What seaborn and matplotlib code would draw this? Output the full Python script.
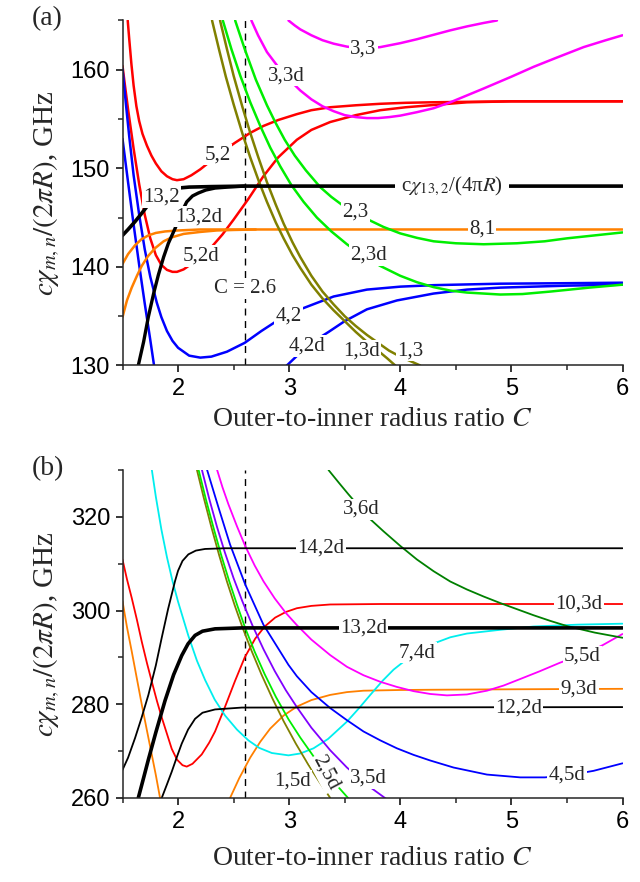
import matplotlib
matplotlib.use("Agg")
import matplotlib.pyplot as plt
import seaborn as sns
import pandas as pd

# ------------------------- panel (a) data (C, GHz) -------------------------
a52_C = [1.547,1.56,1.58,1.60,1.625,1.65,1.68,1.72,1.76,1.80,1.85,1.90,1.95,1.99,2.05,2.12,2.2,2.3,2.4,2.513,2.65,2.768,2.9,3.069,3.2,3.369,3.6,3.82,4.05,4.27,4.6,5.0,5.5,6.0]
a52_V = [165.0,163.2,160.6,158.4,156.3,154.8,153.5,152.3,151.3,150.5,149.7,149.2,148.9,148.8,148.9,149.3,149.9,150.8,151.7,152.6,153.6,154.3,154.9,155.5,155.9,156.2,156.4,156.55,156.65,156.7,156.75,156.8,156.8,156.8]
a52d_C = [1.5,1.52,1.55,1.6,1.65,1.7,1.75,1.8,1.85,1.9,1.95,1.99,2.05,2.12,2.2,2.3,2.4,2.5,2.633,2.768,2.9,3.069,3.2,3.369,3.6,3.82,4.05,4.27,4.6,5.0,6.0]
a52d_V = [160.4,158.6,156.0,152.0,148.4,145.3,142.9,141.2,140.2,139.7,139.5,139.5,139.75,140.3,141.0,142.0,143.3,144.8,146.9,149.2,151.1,152.9,153.9,154.7,155.4,155.9,156.2,156.4,156.7,156.8,156.8]
a42_C = [1.5,1.53,1.56,1.6,1.65,1.7,1.75,1.808,1.85,1.9,1.95,2.0,2.1,2.2,2.3,2.44,2.6,2.75,2.9,3.1,3.4,3.7,4.0,4.3,4.9,5.5,6.0]
a42_V = [160.1,156.6,153.3,149.3,145.3,141.8,139.0,136.4,134.9,133.5,132.5,131.8,131.0,130.8,130.9,131.4,132.3,133.5,134.6,135.7,137.0,137.7,138.0,138.15,138.3,138.35,138.4]
a42d_left_C = [1.5,1.55,1.6,1.65,1.7,1.75,1.784]
a42d_left_V = [153.0,148.6,144.3,140.2,136.3,132.6,130.0]
a42d_right_C = [2.979,3.1,3.2,3.354,3.5,3.7,3.97,4.3,4.6,4.9,5.5,6.0]
a42d_right_V = [130.0,131.3,132.3,133.4,134.5,135.7,136.6,137.3,137.7,137.9,138.1,138.2]
a132_C = [1.5,1.55,1.613,1.67,1.718,1.78,1.85,1.92,2.0,2.1,2.3,2.6,6.0]
a132_V = [143.2,143.8,144.6,145.4,146.1,146.8,147.4,147.8,148.0,148.1,148.15,148.2,148.2]
a132d_C = [1.642,1.69,1.732,1.78,1.823,1.87,1.913,1.973,2.03,2.078,2.13,2.183,2.25,2.333,2.45,2.6]
a132d_V = [130.0,132.4,134.9,137.3,139.2,141.0,142.4,143.9,145.5,146.6,147.2,147.5,147.8,148.0,148.1,148.2]
a81a_C = [1.5,1.55,1.613,1.67,1.733,1.8,1.883,2.0,2.2,6.0]
a81a_V = [140.3,141.3,142.2,142.8,143.2,143.45,143.6,143.7,143.8,143.8]
a81b_C = [1.5,1.54,1.583,1.63,1.673,1.73,1.793,1.87,1.943,2.05,2.2,2.35,2.5,2.7]
a81b_V = [134.9,136.6,137.9,139.1,140.1,141.1,141.9,142.6,143.0,143.35,143.55,143.7,143.75,143.8]
a23_C = [2.514,2.6,2.7,2.8,2.874,2.96,3.05,3.15,3.279,3.38,3.475,3.6,3.73,3.85,4.0,4.15,4.3,4.5,4.75,5.05,5.3,5.5,5.75,6.0]
a23_V = [165.0,162.1,159.0,156.4,154.7,152.9,151.3,149.8,148.1,147.1,146.3,145.4,144.7,144.05,143.4,142.95,142.6,142.4,142.3,142.4,142.6,142.9,143.2,143.5]
a23d_C = [2.403,2.48,2.56,2.65,2.74,2.83,2.92,3.02,3.13,3.25,3.38,3.52,3.67,3.82,4.0,4.15,4.3,4.45,4.6,4.9,5.1,5.35,5.7,6.0]
a23d_V = [165.0,162.1,159.4,156.7,154.3,152.1,150.2,148.3,146.6,145.0,143.6,142.3,141.1,140.1,139.1,138.45,137.95,137.6,137.4,137.2,137.25,137.5,137.9,138.2]
a13d_C = [2.306,2.37,2.43,2.5,2.58,2.65,2.73,2.8,2.88,2.95,3.03,3.1,3.2,3.3,3.4,3.5,3.6,3.7,3.8,3.88,3.955]
a13d_V = [165.0,162.0,159.3,156.5,153.5,151.1,148.6,146.6,144.5,142.9,141.2,139.9,138.2,136.8,135.6,134.5,133.4,132.4,131.5,130.75,130.0]
a13_C = [2.378,2.44,2.5,2.58,2.65,2.72,2.8,2.88,2.95,3.03,3.1,3.2,3.3,3.4,3.5,3.6,3.7,3.8,3.9,4.0,4.09,4.18]
a13_V = [165.0,162.1,159.4,156.2,153.6,151.2,148.6,146.3,144.4,142.5,141.0,139.1,137.5,136.2,135.0,134.0,133.1,132.3,131.5,130.9,130.45,130.0]
a33_C = [2.994,3.05,3.1,3.2,3.3,3.4,3.52,3.67,3.82,4.0,4.15,4.3,4.45,4.6,4.75,4.87]
a33_V = [165.0,164.5,164.1,163.5,163.0,162.65,162.35,162.15,162.3,162.7,163.1,163.55,164.0,164.4,164.75,165.0]
a33d_C = [2.66,2.72,2.8,2.9,3.0,3.1,3.2,3.3,3.4,3.5,3.6,3.7,3.8,3.9,4.0,4.15,4.3,4.45,4.6,4.75,5.0,5.2,5.4,5.65,5.85,6.0]
a33d_V = [165.0,163.5,161.8,160.3,159.0,157.9,157.0,156.3,155.8,155.4,155.2,155.1,155.1,155.2,155.35,155.7,156.1,156.7,157.4,158.1,159.3,160.3,161.2,162.3,163.0,163.5]

# ------------------------- panel (b) data (C, GHz) -------------------------
b142d_C = [1.5,1.55,1.613,1.67,1.733,1.8,1.853,1.91,1.973,2.0,2.04,2.093,2.16,2.243,2.423,6.0]
b142d_V = [266.0,268.6,272.8,277.0,282.0,288.3,294.2,300.3,306.3,308.5,310.6,312.0,312.8,313.15,313.3,313.3]
b132d_C = [1.642,1.69,1.733,1.8,1.883,1.96,2.033,2.09,2.153,2.22,2.333,2.574,6.0]
b132d_V = [260.0,264.3,268.2,274.0,280.8,286.3,290.4,292.9,294.7,295.6,296.1,296.3,296.3]
b122d_C = [1.853,1.9,1.943,1.99,2.033,2.09,2.153,2.22,2.333,2.574,6.0]
b122d_V = [260.0,262.9,265.6,268.8,271.6,274.6,276.9,278.2,278.9,279.3,279.4]
b103d_C = [1.5,1.54,1.583,1.63,1.673,1.72,1.763,1.81,1.853,1.9,1.943,1.99,2.04,2.078,2.13,2.213,2.28,2.333,2.42,2.513,2.6,2.694,2.78,2.874,2.97,3.069,3.2,3.369,3.82,6.0]
b103d_V = [310.9,306.7,302.7,298.0,293.4,288.8,284.9,280.7,277.2,273.7,270.5,268.2,267.0,266.7,267.3,269.3,271.8,274.2,279.3,285.0,290.0,294.0,296.6,298.5,299.7,300.5,301.0,301.3,301.4,301.4]
b93d_left_C = [1.5,1.54,1.583,1.63,1.673,1.72,1.763,1.8,1.838]
b93d_left_V = [302.0,296.5,291.3,285.4,280.0,274.4,269.3,264.9,260.0]
b93d_right_C = [2.468,2.55,2.649,2.74,2.829,2.95,3.069,3.2,3.369,3.52,3.669,4.0,4.27,5.0,6.0]
b93d_right_V = [260.0,264.2,268.6,272.0,274.8,277.6,279.5,280.9,282.0,282.6,282.9,283.05,283.1,283.2,283.3]
b74d_C = [1.763,1.8,1.85,1.9,1.95,2.0,2.093,2.17,2.243,2.33,2.423,2.53,2.633,2.73,2.844,2.994,3.1,3.219,3.35,3.52,3.63,3.73,3.84,3.94,4.1,4.315,4.45,4.6,4.9,5.2,5.6,6.0]
b74d_V = [330.2,324.3,317.3,311.4,306.3,301.9,294.6,289.3,285.2,281.0,277.6,274.6,272.3,270.7,269.6,269.1,269.5,270.6,272.6,276.3,279.2,282.0,285.0,287.4,290.4,293.1,294.3,295.1,295.9,296.6,297.0,297.2]
b36d_C = [3.354,3.45,3.534,3.64,3.73,3.85,4.0,4.15,4.3,4.45,4.6,4.75,4.9,5.05,5.2,5.35,5.5,5.75,6.0]
b36d_V = [330.0,327.2,324.8,321.9,319.5,316.9,313.8,310.9,308.4,306.2,304.5,303.0,301.6,300.3,299.0,297.8,296.7,295.3,294.2]
b55d_C = [2.349,2.4,2.453,2.53,2.604,2.69,2.77,2.87,2.97,3.069,3.2,3.369,3.52,3.669,3.82,3.97,4.12,4.27,4.42,4.6,4.78,4.93,5.08,5.25,5.44,5.64,5.82,6.0]
b55d_V = [330.2,326.3,322.7,318.0,313.8,309.6,306.2,302.6,299.5,296.9,293.8,290.5,288.0,286.2,284.8,283.7,282.8,282.2,281.9,282.1,282.9,284.0,285.4,287.0,288.9,290.6,292.6,295.0]
b45d_C = [2.259,2.36,2.468,2.604,2.768,2.994,3.069,3.2,3.369,3.52,3.669,3.82,3.97,4.12,4.27,4.48,4.78,5.08,5.3,5.5,5.74,6.0]
b45d_V = [330.2,322.3,314.1,305.6,297.0,288.4,286.0,282.6,279.2,276.6,274.2,272.3,270.6,269.2,268.0,266.5,265.0,264.4,264.4,264.8,265.8,267.4]
b35d_C = [2.213,2.28,2.35,2.42,2.5,2.58,2.67,2.77,2.87,2.97,3.069,3.2,3.369,3.52,3.7,3.88]
b35d_V = [330.2,323.9,317.9,312.5,306.9,301.9,296.8,291.7,287.1,283.0,279.4,275.0,270.2,266.5,262.8,259.7]
b25d_C = [2.183,2.25,2.32,2.39,2.46,2.53,2.604,2.69,2.78,2.88,2.994,3.1,3.219,3.33,3.444,3.53]
b25d_V = [330.2,323.8,317.6,311.7,306.3,301.3,296.3,291.2,286.4,281.6,276.8,272.9,268.9,265.5,262.3,260.0]
b15d_C = [2.168,2.23,2.3,2.37,2.44,2.51,2.58,2.66,2.75,2.85,2.95,3.06,3.17,3.27,3.37]
b15d_V = [330.2,324.2,317.8,311.8,306.2,301.1,296.4,291.5,286.4,281.2,276.4,271.6,267.2,263.5,260.0]

# ------------------------- labels -------------------------
a_labels = [("5,2", 2.356, 151.4, 0), ("5,2d", 2.205, 141.1, 0), ("13,2", 1.853, 147.1, 0),
            ("13,2d", 2.19, 145.1, 0), ("4,2", 2.994, 135.0, 0), ("4,2d", 3.16, 132.0, 0),
            ("2,3", 3.594, 145.6, 0), ("2,3d", 3.714, 141.2, 0), ("1,3d", 3.647, 131.5, 0),
            ("1,3", 4.09, 131.5, 0), ("3,3", 3.67, 162.1, 0), ("3,3d", 2.979, 159.4, 0),
            ("8,1", 4.736, 143.8, 0), ("C = 2.6", 2.604, 137.8, 0)]
b_labels = [("14,2d", 3.288, 313.3, 0), ("13,2d", 3.67, 296.2, 0), ("12,2d", 5.066, 279.3, 0),
            ("10,3d", 5.607, 301.4, 0), ("9,3d", 5.608, 283.2, 0), ("7,4d", 4.15, 291.0, 0),
            ("5,5d", 5.64, 290.2, 0), ("4,5d", 5.5, 264.9, 0), ("3,6d", 3.647, 321.6, 0),
            ("3,5d", 3.714, 264.2, 0), ("2,5d", 3.33, 265.5, -62), ("1,5d", 3.03, 263.7, 0)]

RED, BLUE, GREEN, MAG = "#FF0000", "#0000FF", "#00EE00", "#FF00FF"
ORANGE, OLIVE, CYAN, PURPLE, DGREEN = "#FF8000", "#808000", "#00EEEE", "#8000FF", "#008000"

a_curves = [
    (a52_C, a52_V, RED, 1.8), (a52d_C, a52d_V, RED, 1.8),
    (a42_C, a42_V, BLUE, 1.8), (a42d_left_C, a42d_left_V, BLUE, 1.8), (a42d_right_C, a42d_right_V, BLUE, 1.8),
    (a81a_C, a81a_V, ORANGE, 1.8), (a81b_C, a81b_V, ORANGE, 1.8),
    (a23_C, a23_V, GREEN, 1.8), (a23d_C, a23d_V, GREEN, 1.8),
    (a13d_C, a13d_V, OLIVE, 1.8), (a13_C, a13_V, OLIVE, 1.8),
    (a33_C, a33_V, MAG, 1.8), (a33d_C, a33d_V, MAG, 1.8),
    (a132d_C, a132d_V, "black", 2.4), (a132_C, a132_V, "black", 2.6),
]
b_curves = [
    (b93d_left_C, b93d_left_V, ORANGE, 1.3), (b93d_right_C, b93d_right_V, ORANGE, 1.3),
    (b103d_C, b103d_V, RED, 1.3), (b74d_C, b74d_V, CYAN, 1.3),
    (b15d_C, b15d_V, OLIVE, 1.3), (b25d_C, b25d_V, GREEN, 1.3), (b35d_C, b35d_V, PURPLE, 1.3),
    (b45d_C, b45d_V, BLUE, 1.3), (b55d_C, b55d_V, MAG, 1.3), (b36d_C, b36d_V, DGREEN, 1.3),
    (b142d_C, b142d_V, "black", 1.3), (b122d_C, b122d_V, "black", 1.3), (b132d_C, b132d_V, "black", 2.6),
]

sns.set_theme(style="ticks")
plt.rcParams["font.family"] = ["Liberation Serif", "DejaVu Serif"]
plt.rcParams["mathtext.fontset"] = "stix"
plt.rcParams["axes.linewidth"] = 1.1

fig = plt.figure(figsize=(6.4, 8.82), dpi=100)
axa = fig.add_axes([122.5 / 640, 1 - 365.5 / 882, 500 / 640, 345 / 882])
axb = fig.add_axes([122.5 / 640, 1 - 798 / 882, 500 / 640, 328 / 882])

def draw(ax, curves):
    for C, V, col, lw in curves:
        df = pd.DataFrame({"C": C, "V": V})
        sns.lineplot(data=df, x="C", y="V", ax=ax, color=col, linewidth=lw,
                     sort=False, estimator=None)

def labels(ax, items):
    for txt, c, v, rot in items:
        ax.text(c, v, txt, ha="center", va="center", rotation=rot, fontsize=15,
                zorder=6, bbox=dict(boxstyle="square,pad=0.06", fc="white", ec="none"))

draw(axa, a_curves)
draw(axb, b_curves)
for ax in (axa, axb):
    ax.axvline(2.6, color="black", lw=1.0, ls=(0, (5, 4)), zorder=1)
labels(axa, a_labels)
labels(axb, b_labels)
axa.text(4.466, 148.2, r"c$\chi_{13,2}$/(4π$R$)", ha="center", va="center", fontsize=15,
         zorder=6, bbox=dict(boxstyle="square,pad=0.3", fc="white", ec="none"))

axa.set_ylim(130, 165)
axb.set_ylim(260, 330)
axa.set_yticks([130, 140, 150, 160])
axa.set_yticks([135, 145, 155, 165], minor=True)
axb.set_yticks([260, 280, 300, 320])
axb.set_yticks([270, 290, 310, 330], minor=True)
for ax, ylc, xlc in ((axa, -0.12, -0.12), (axb, -0.12, -0.145)):
    ax.set_xlim(1.5, 6)
    ax.set_xticks([2, 3, 4, 5, 6])
    ax.set_xticks([1.5, 2.5, 3.5, 4.5, 5.5], minor=True)
    sns.despine(ax=ax)
    ax.tick_params(which="major", direction="out", length=5, width=1.1, labelsize=17,
                   labelfontfamily="Liberation Sans", pad=4, colors="black")
    ax.tick_params(which="minor", direction="out", length=3.5, width=1.1)
    ax.set_xlabel(r"Outer-to-inner radius ratio $C$", fontsize=20)
    ax.set_ylabel(r"$c\chi_{m,n}/(2\pi R)$, GHz", fontsize=21)
    ax.xaxis.set_label_coords(0.5, xlc)
    ax.yaxis.set_label_coords(ylc, 0.5)

fig.text(46.7 / 640, 1 - 19 / 882, "(a)", ha="center", va="center", fontsize=20)
fig.text(47.5 / 640, 1 - 469 / 882, "(b)", ha="center", va="center", fontsize=20)

fig.savefig("out.png", dpi=100)
